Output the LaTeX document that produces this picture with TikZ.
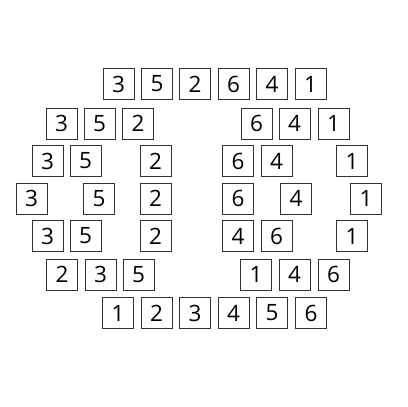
\documentclass[tikz,border=0pt]{standalone}
\usepackage{fontspec}
\setmainfont{Open Sans}
\usepackage{tikz}

\tikzset{
    cell/.style={draw=black!80, line width=0.9pt, minimum size=31pt, inner sep=0pt, font=\fontsize{22.5}{22.5}\selectfont}
}

\begin{document}
\begin{tikzpicture}[x=1pt, y=-1pt]
        \useasboundingbox (0, 0) rectangle (408, 407);

        % unsorted row
        \draw (118.5, 84) node[cell] (a1) {3};
        \draw (157, 84) node[cell] (a2) {5};
        \draw (195, 84) node[cell] (a3) {2};
        \draw (233.5, 84) node[cell] (a4) {6};
        \draw (272, 84) node[cell] (a5) {4};
        \draw (310.5, 84) node[cell] (a6) {1};

        % split into halves
        \draw (61.5, 123.5) node[cell] (b1) {3};
        \draw (99.5, 123.5) node[cell] (b2) {5};
        \draw (138, 123.5) node[cell] (b3) {2};
        \draw (256.5, 123.5) node[cell] (b4) {6};
        \draw (294.5, 123.5) node[cell] (b5) {4};
        \draw (333.5, 123.5) node[cell] (b6) {1};

        \draw (47.5, 161) node[cell] (c1) {3};
        \draw (85.5, 161) node[cell] (c2) {5};
        \draw (155.5, 161) node[cell] (c3) {2};
        \draw (238, 161) node[cell] (c4) {6};
        \draw (276.5, 161) node[cell] (c5) {4};
        \draw (352, 161) node[cell] (c6) {1};

        % single elements
        \draw (31.5, 198.5) node[cell] (d1) {3};
        \draw (99, 198.5) node[cell] (d2) {5};
        \draw (155.5, 198.5) node[cell] (d3) {2};
        \draw (238, 198.5) node[cell] (d4) {6};
        \draw (296, 198.5) node[cell] (d5) {4};
        \draw (366, 198.5) node[cell] (d6) {1};

        % merging back
        \draw (47.5, 236) node[cell] (e1) {3};
        \draw (85.5, 236) node[cell] (e2) {5};
        \draw (155.5, 236) node[cell] (e3) {2};
        \draw (238, 236) node[cell] (e4) {4};
        \draw (276.5, 236) node[cell] (e5) {6};
        \draw (352, 236) node[cell] (e6) {1};

        \draw (62, 274.5) node[cell] (f1) {2};
        \draw (100.5, 274.5) node[cell] (f2) {3};
        \draw (138.5, 274.5) node[cell] (f3) {5};
        \draw (256, 274.5) node[cell] (f4) {1};
        \draw (294.5, 274.5) node[cell] (f5) {4};
        \draw (333.5, 274.5) node[cell] (f6) {6};

        % sorted row
        \draw (118, 313) node[cell] (g1) {1};
        \draw (156.5, 313) node[cell] (g2) {2};
        \draw (195, 313) node[cell] (g3) {3};
        \draw (233.5, 313) node[cell] (g4) {4};
        \draw (272, 313) node[cell] (g5) {5};
        \draw (311, 313) node[cell] (g6) {6};
    \end{tikzpicture}
\end{document}
